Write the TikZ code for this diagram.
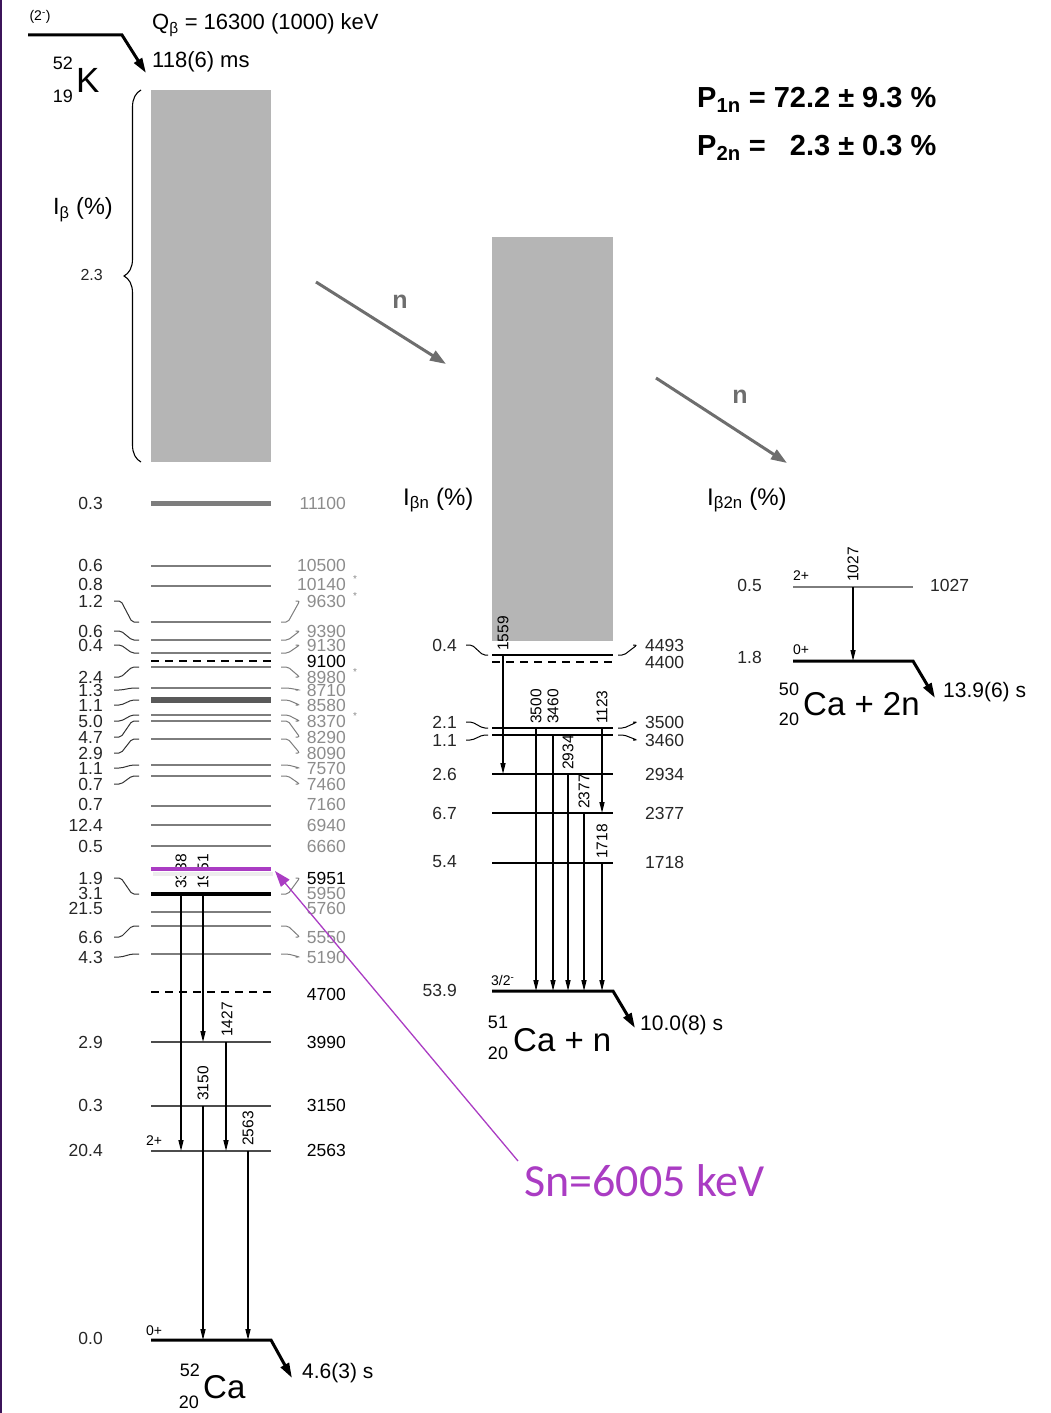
\documentclass[tikz,border=0pt]{standalone}
\usepackage{fontspec}
\setmainfont{Liberation Sans}
\newfontfamily\snfont{Carlito}
\usetikzlibrary{arrows.meta,decorations.pathreplacing}

\definecolor{lvlgray}{RGB}{125,125,125}
\definecolor{labgray}{RGB}{140,140,140}
\definecolor{boxgray}{RGB}{181,181,181}
\definecolor{ngray}{RGB}{110,110,110}
\definecolor{snpurple}{RGB}{170,60,195}
\definecolor{slideedge}{RGB}{60,20,90}

\tikzset{
  lvl/.style={lvlgray, line width=1.6pt},
  blk/.style={black, line width=1.5pt},
  gam/.style={black, line width=1.3pt, -{Triangle[length=11pt,width=5pt]}},
  half/.style={black, line width=3pt, -{Triangle[length=15pt,width=9pt]}},
  glab/.style={rotate=90, anchor=west, inner sep=1pt, font=\fontsize{15.5}{15.5}\selectfont},
  ilab/.style={anchor=east, inner sep=0pt, font=\fontsize{17.5}{17.5}\selectfont, text=black!85},
  elab/.style={anchor=east, inner sep=0pt, font=\fontsize{17.5}{17.5}\selectfont},
  spin/.style={anchor=south west, inner sep=0pt, font=\fontsize{14}{14}\selectfont},
  tie/.style={line width=1pt, rounded corners=2pt},
  nbig/.style={anchor=west, inner sep=0pt, font=\fontsize{33}{33}\selectfont},
  nsmall/.style={inner sep=0pt, font=\fontsize{18}{18}\selectfont},
  hl/.style={anchor=west, inner sep=0pt, font=\fontsize{22}{22}\selectfont},
}

\begin{document}
\begin{tikzpicture}[x=1pt,y=-1pt]

\useasboundingbox (0,0) rectangle (1051,1413);
\fill[slideedge] (0,0) rectangle (2,1413);

% parent 52K
\node[font=\fontsize{14}{14}\selectfont] (spinK) at (40,17) {(2\textsuperscript{-})};
\draw[half] (28,35) -- (122,35) -- (146,73);
\node[hl] (qb) at (152,25) {Q\textsubscript{β} = 16300 (1000) keV};
\node[hl] (tK) at (152,62) {118(6) ms};
\node[nsmall] (aK) at (63,63) {52};
\node[nsmall] (zK) at (63,96) {19};
\node[nbig, font=\fontsize{35}{35}\selectfont] (K) at (76,80) {K};

\node[font=\fontsize{29}{29}\selectfont\bfseries, anchor=west, inner sep=0pt] (p1n) at (697,100) {P\textsubscript{1n} = 72.2 ± 9.3 \%};
\node[font=\fontsize{29}{29}\selectfont\bfseries, anchor=west, inner sep=0pt] (p2n) at (697,148) {P\textsubscript{2n} = \phantom{7}2.3 ± 0.3 \%};

% 52Ca
\fill[boxgray] (151,90) rectangle (271,462);
\draw[decorate, decoration={brace, amplitude=17pt}, line width=1.1pt] (141,462) -- (141,90);
\node[font=\fontsize{23.5}{23.5}\selectfont, anchor=west, inner sep=0pt] (ib) at (53,210) {I\textsubscript{β} (\%)};
\node[ilab, font=\fontsize{16}{16}\selectfont] (i275) at (103,275) {2.3};

\draw[lvlgray, line width=5pt] (151,503) -- (271,503);
\foreach \y in {566,586,622,640,653,667,688,715,721,739,765,776,806,825,846,912,926,954}
  \draw[lvl] (151,\y) -- (271,\y);
\draw[black!65, line width=6pt] (151,700) -- (271,700);
\draw[blk, dash pattern=on 8pt off 6pt] (151,661) -- (271,661);
\draw[blk, dash pattern=on 8pt off 6pt] (151,992) -- (271,992);
\draw[black, line width=3.5pt] (151,894) -- (271,894);
\foreach \y in {1042,1106,1151}
  \draw[black!70, line width=1.8pt] (151,\y) -- (271,\y);
\draw[half] (151,1340) -- (271,1340) -- (292,1378);

\foreach \t/\ly in {0.3/503, 0.6/565, 0.8/584, 1.2/601, 0.6/631, 0.4/645, 2.4/677, 1.3/690,
  1.1/705, 5.0/721, 4.7/737, 2.9/753, 1.1/768, 0.7/784, 0.7/804, 12.4/825, 0.5/846,
  1.9/878, 3.1/893, 21.5/908, 6.6/937, 4.3/957, 2.9/1042, 0.3/1105, 20.4/1150, 0.0/1338}
  \node[ilab] (i\ly) at (103,\ly) {\t};

\foreach \t/\ly/\c in {11100/503/labgray, 10500/565/labgray, 10140/584/labgray, 9630/601/labgray,
  9390/631/labgray, 9130/645/labgray, 9100/661/black, 8980/677/labgray, 8710/690/labgray,
  8580/705/labgray, 8370/721/labgray, 8290/737/labgray, 8090/753/labgray, 7570/768/labgray,
  7460/784/labgray, 7160/804/labgray, 6940/825/labgray, 6660/846/labgray, 5951/878/black,
  5950/893/labgray, 5760/908/labgray, 5550/937/labgray, 5190/957/labgray, 4700/994/black,
  3990/1042/black, 3150/1105/black, 2563/1150/black}
  \node[elab, text=\c] (e\ly) at (346,\ly) {\t};
\foreach \ly in {584,601,677,721}
  \node[font=\fontsize{10}{10}\selectfont, text=labgray, inner sep=0pt] (s\ly) at (355,\ly-5) {*};

\foreach \a/\b in {601/622, 631/640, 645/653, 677/667, 690/688, 705/700, 721/715, 737/721,
  753/739, 768/765, 784/776, 878/894, 937/926, 957/954}
{
  \draw[tie, black!80] ([xshift=11pt]i\a.east) -- ++(7,0) -- (132,\b) -- (139,\b);
  \draw[tie, lvlgray] (281,\b) -- (288,\b) -- ([xshift=-7pt]e\a.west) -- ++(-4,0);
}

\draw[gam] (181,894) -- (181,1151);
\draw[gam] (203,894) -- (203,1042);
\draw[gam] (226,1042) -- (226,1151);
\draw[gam] (203,1106) -- (203,1340);
\draw[gam] (248,1151) -- (248,1340);
\foreach \x/\ly/\t in {181/890/3338, 203/890/1951, 227/1038/1427, 203/1102/3150, 248/1147/2563}
  \node[glab] (g\t) at (\x,\ly) {\t};

\node[spin] (s2a) at (146,1146) {2+};
\node[spin] (s0a) at (146,1336) {0+};
\node[anchor=west, inner sep=0pt, font=\fontsize{21}{21}\selectfont] (tCa52) at (302,1373) {4.6(3) s};
\node[nsmall] (aCa52) at (190,1370) {52};
\node[nsmall] (zCa52) at (189,1402) {20};
\node[nbig] (Ca52) at (203,1387) {Ca};

% neutron arrows
\draw[ngray, line width=3pt, -{Triangle[length=16pt,width=11pt]}] (316,282) -- (446,364);
\node[text=ngray, font=\fontsize{25}{25}\selectfont\bfseries] (n1) at (400,302) {n};
\draw[ngray, line width=3pt, -{Triangle[length=16pt,width=11pt]}] (656,378) -- (787,463);
\node[text=ngray, font=\fontsize{25}{25}\selectfont\bfseries] (n2) at (740,397) {n};

% 51Ca + n
\node[font=\fontsize{24}{24}\selectfont, anchor=west, inner sep=0pt] (ibn) at (403,500) {I\textsubscript{βn} (\%)};
\fill[boxgray] (492,237) rectangle (613,641);
\foreach \y in {655,728,735,774,813,863}
  \draw[blk] (492,\y) -- (613,\y);
\draw[blk, dash pattern=on 8pt off 6pt] (492,662) -- (613,662);
\draw[half] (492,991) -- (613,991) -- (635,1028);

\foreach \t/\ly in {0.4/645, 2.1/722, 1.1/740, 2.6/774, 6.7/813, 5.4/862, 53.9/990}
  \node[ilab] (m\ly) at (457,\ly) {\t};
\foreach \t/\ly in {4493/645, 4400/662, 3500/722, 3460/740, 2934/774, 2377/813, 1718/862}
  \node[ilab, anchor=west] (r\ly) at (645,\ly) {\t};
\foreach \a/\b in {645/655, 722/728, 740/735}
{
  \draw[tie] ([xshift=9pt]m\a.east) -- ++(6,0) -- (483,\b) -- (488,\b);
  \draw[tie] (618,\b) -- (624,\b) -- ([xshift=-8pt]r\a.west) -- ++(-4,0);
}

\draw[gam] (503,655) -- (503,774);
\foreach \x/\a/\b in {536/728/991, 553/735/991, 568/774/991, 584/813/991, 602/728/813, 602/863/991}
  \draw[gam] (\x,\a) -- (\x,\b);
\foreach \x/\ly/\t in {503/652/1559, 536/725/3500, 553/725/3460, 568/771/2934, 584/810/2377, 602/725/1123, 602/860/1718}
  \node[glab] (h\t) at (\x,\ly) {\t};

\node[spin] (s32) at (491,986) {3/2\textsuperscript{-}};
\node[anchor=west, inner sep=0pt, font=\fontsize{21}{21}\selectfont] (tCa51) at (640,1025) {10.0(8) s};
\node[nsmall] (aCa51) at (498,1022) {51};
\node[nsmall] (zCa51) at (498,1053) {20};
\node[nbig] (Ca51) at (513,1040) {Ca + n};

% 50Ca + 2n
\node[font=\fontsize{24}{24}\selectfont, anchor=west, inner sep=0pt] (ib2n) at (707,500) {I\textsubscript{β2n} (\%)};
\draw[lvl] (793,587) -- (913,587);
\draw[gam] (853,587) -- (853,661);
\draw[half] (793,661) -- (913,661) -- (935,698);
\node[glab] (k1027) at (853,583) {1027};
\node[ilab] (q585) at (762,585) {0.5};
\node[ilab] (q657) at (762,657) {1.8};
\node[ilab, anchor=west] (w585) at (930,585) {1027};
\node[spin] (s2b) at (793,581) {2+};
\node[spin] (s0b) at (793,655) {0+};
\node[anchor=west, inner sep=0pt, font=\fontsize{21}{21}\selectfont] (tCa50) at (943,692) {13.9(6) s};
\node[nsmall] (aCa50) at (789,689) {50};
\node[nsmall] (zCa50) at (789,719) {20};
\node[nbig] (Ca50) at (803,704) {Ca + 2n};

% Sn
\draw[black!7, line width=4pt] (153,874) -- (273,874);
\draw[snpurple, line width=4pt] (151,869) -- (271,869);
\coordinate (snend) at (275,871);
\node[text=snpurple, anchor=west, inner sep=0pt, font=\snfont\fontsize{46}{46}\selectfont] (sn) at (524,1181) {Sn=6005 keV};
\draw[snpurple, line width=1.3pt, -{Triangle[length=16pt,width=11pt]}] ([shift={(-6,-20)}]sn.west) -- (snend);

\end{tikzpicture}
\end{document}
